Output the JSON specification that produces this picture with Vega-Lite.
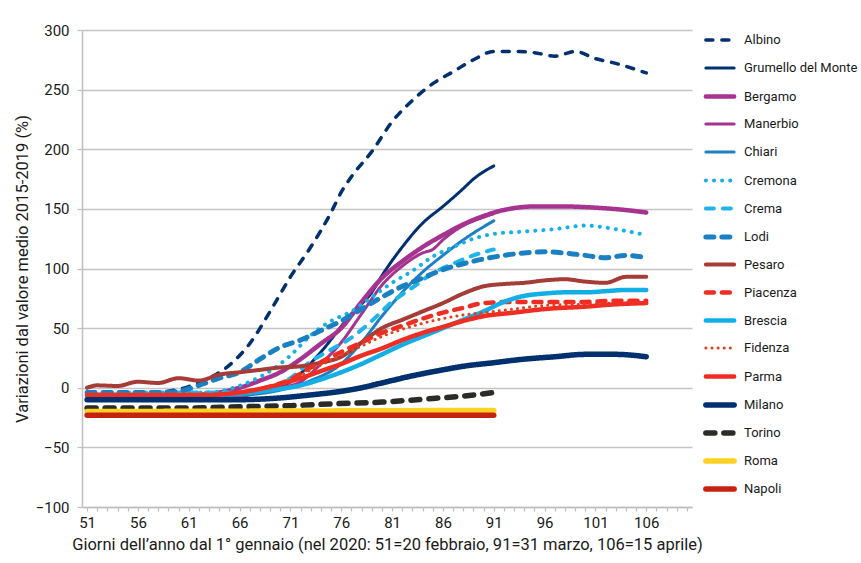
{
  "$schema": "https://vega.github.io/schema/vega-lite/v6.json",
  "autosize": "none",
  "width": 610,
  "height": 477,
  "padding": {"left": 82, "top": 30, "right": 169, "bottom": 56},
  "background": "white",
  "config": {
    "font": "Roboto",
    "view": {"stroke": null},
    "axis": {"labelFont": "Roboto", "titleFont": "Roboto", "labelColor": "#1a1a1a", "titleColor": "#1a1a1a", "titleFontWeight": "normal", "labelFontSize": 15, "titleFontSize": 16.5, "domainColor": "#bfbfbf", "tickColor": "#bfbfbf", "gridColor": "#c4c4c4", "domainWidth": 1.5, "tickWidth": 1.2, "gridWidth": 1.5},
    "legend": {"labelFont": "Roboto", "labelFontSize": 13, "labelColor": "#1a1a1a"}
  },
  "data": {"values": [
    {"c":"Albino","d":51,"v":-6},{"c":"Albino","d":54,"v":-6},{"c":"Albino","d":57,"v":-5},{"c":"Albino","d":59,"v":-3},{"c":"Albino","d":61,"v":1},{"c":"Albino","d":63,"v":8},{"c":"Albino","d":65,"v":19},{"c":"Albino","d":67,"v":37},{"c":"Albino","d":69,"v":64},{"c":"Albino","d":71,"v":93},{"c":"Albino","d":73,"v":118},{"c":"Albino","d":75,"v":147},{"c":"Albino","d":76,"v":164},{"c":"Albino","d":77,"v":177},{"c":"Albino","d":79,"v":198},{"c":"Albino","d":81,"v":223},{"c":"Albino","d":83,"v":241},{"c":"Albino","d":85,"v":255},{"c":"Albino","d":87,"v":265},{"c":"Albino","d":89,"v":275},{"c":"Albino","d":91,"v":282},{"c":"Albino","d":93,"v":282},{"c":"Albino","d":95,"v":281},{"c":"Albino","d":97,"v":278},{"c":"Albino","d":99,"v":282},{"c":"Albino","d":101,"v":276},{"c":"Albino","d":103,"v":272},{"c":"Albino","d":106,"v":264},
    {"c":"Grumello del Monte","d":51,"v":-8},{"c":"Grumello del Monte","d":61,"v":-8},{"c":"Grumello del Monte","d":65,"v":-7},{"c":"Grumello del Monte","d":69,"v":-2},{"c":"Grumello del Monte","d":71,"v":5},{"c":"Grumello del Monte","d":72,"v":12},{"c":"Grumello del Monte","d":74,"v":30},{"c":"Grumello del Monte","d":77,"v":62},{"c":"Grumello del Monte","d":79,"v":80},{"c":"Grumello del Monte","d":80,"v":94},{"c":"Grumello del Monte","d":82,"v":118},{"c":"Grumello del Monte","d":84,"v":138},{"c":"Grumello del Monte","d":86,"v":152},{"c":"Grumello del Monte","d":88,"v":167},{"c":"Grumello del Monte","d":89,"v":175},{"c":"Grumello del Monte","d":91,"v":186},
    {"c":"Bergamo","d":51,"v":-6},{"c":"Bergamo","d":61,"v":-6},{"c":"Bergamo","d":64,"v":-4},{"c":"Bergamo","d":66,"v":0},{"c":"Bergamo","d":68,"v":6},{"c":"Bergamo","d":70,"v":13},{"c":"Bergamo","d":72,"v":24},{"c":"Bergamo","d":74,"v":37},{"c":"Bergamo","d":76,"v":50},{"c":"Bergamo","d":78,"v":72},{"c":"Bergamo","d":80,"v":92},{"c":"Bergamo","d":82,"v":106},{"c":"Bergamo","d":84,"v":118},{"c":"Bergamo","d":86,"v":128},{"c":"Bergamo","d":88,"v":137},{"c":"Bergamo","d":90,"v":144},{"c":"Bergamo","d":92,"v":149},{"c":"Bergamo","d":95,"v":152},{"c":"Bergamo","d":98,"v":152},{"c":"Bergamo","d":101,"v":151},{"c":"Bergamo","d":104,"v":149},{"c":"Bergamo","d":106,"v":147},
    {"c":"Manerbio","d":51,"v":-7},{"c":"Manerbio","d":66,"v":-7},{"c":"Manerbio","d":68,"v":-4},{"c":"Manerbio","d":70,"v":0},{"c":"Manerbio","d":72,"v":5},{"c":"Manerbio","d":74,"v":20},{"c":"Manerbio","d":76,"v":38},{"c":"Manerbio","d":78,"v":62},{"c":"Manerbio","d":80,"v":86},{"c":"Manerbio","d":82,"v":102},{"c":"Manerbio","d":84,"v":113},{"c":"Manerbio","d":85,"v":116},{"c":"Manerbio","d":86,"v":124},{"c":"Manerbio","d":88,"v":136},{"c":"Manerbio","d":90,"v":143},{"c":"Manerbio","d":91,"v":146},
    {"c":"Chiari","d":51,"v":-7},{"c":"Chiari","d":66,"v":-6},{"c":"Chiari","d":70,"v":-2},{"c":"Chiari","d":73,"v":6},{"c":"Chiari","d":76,"v":20},{"c":"Chiari","d":78,"v":38},{"c":"Chiari","d":80,"v":60},{"c":"Chiari","d":82,"v":80},{"c":"Chiari","d":84,"v":97},{"c":"Chiari","d":86,"v":111},{"c":"Chiari","d":88,"v":124},{"c":"Chiari","d":90,"v":135},{"c":"Chiari","d":91,"v":140},
    {"c":"Cremona","d":51,"v":-4},{"c":"Cremona","d":63,"v":-4},{"c":"Cremona","d":65,"v":-1},{"c":"Cremona","d":67,"v":5},{"c":"Cremona","d":69,"v":14},{"c":"Cremona","d":71,"v":27},{"c":"Cremona","d":73,"v":44},{"c":"Cremona","d":75,"v":56},{"c":"Cremona","d":77,"v":64},{"c":"Cremona","d":79,"v":76},{"c":"Cremona","d":81,"v":88},{"c":"Cremona","d":83,"v":98},{"c":"Cremona","d":85,"v":110},{"c":"Cremona","d":87,"v":118},{"c":"Cremona","d":89,"v":125},{"c":"Cremona","d":91,"v":129},{"c":"Cremona","d":94,"v":131},{"c":"Cremona","d":97,"v":133},{"c":"Cremona","d":100,"v":136},{"c":"Cremona","d":103,"v":133},{"c":"Cremona","d":106,"v":128},
    {"c":"Crema","d":51,"v":-4},{"c":"Crema","d":66,"v":-4},{"c":"Crema","d":69,"v":0},{"c":"Crema","d":71,"v":8},{"c":"Crema","d":73,"v":22},{"c":"Crema","d":75,"v":32},{"c":"Crema","d":77,"v":42},{"c":"Crema","d":79,"v":56},{"c":"Crema","d":81,"v":72},{"c":"Crema","d":83,"v":84},{"c":"Crema","d":85,"v":96},{"c":"Crema","d":87,"v":104},{"c":"Crema","d":89,"v":111},{"c":"Crema","d":91,"v":116},
    {"c":"Lodi","d":51,"v":-4},{"c":"Lodi","d":58,"v":-4},{"c":"Lodi","d":60,"v":-3},{"c":"Lodi","d":62,"v":2},{"c":"Lodi","d":64,"v":8},{"c":"Lodi","d":66,"v":13},{"c":"Lodi","d":68,"v":24},{"c":"Lodi","d":70,"v":34},{"c":"Lodi","d":72,"v":40},{"c":"Lodi","d":74,"v":48},{"c":"Lodi","d":76,"v":56},{"c":"Lodi","d":78,"v":66},{"c":"Lodi","d":80,"v":76},{"c":"Lodi","d":82,"v":85},{"c":"Lodi","d":84,"v":92},{"c":"Lodi","d":86,"v":99},{"c":"Lodi","d":88,"v":104},{"c":"Lodi","d":90,"v":108},{"c":"Lodi","d":92,"v":111},{"c":"Lodi","d":94,"v":113},{"c":"Lodi","d":96,"v":114},{"c":"Lodi","d":98,"v":113},{"c":"Lodi","d":100,"v":111},{"c":"Lodi","d":102,"v":109},{"c":"Lodi","d":104,"v":111},{"c":"Lodi","d":106,"v":109},
    {"c":"Pesaro","d":51,"v":0},{"c":"Pesaro","d":52,"v":2},{"c":"Pesaro","d":54,"v":1.5},{"c":"Pesaro","d":56,"v":5},{"c":"Pesaro","d":58,"v":4},{"c":"Pesaro","d":60,"v":8},{"c":"Pesaro","d":62,"v":6},{"c":"Pesaro","d":64,"v":11},{"c":"Pesaro","d":66,"v":13},{"c":"Pesaro","d":68,"v":15},{"c":"Pesaro","d":70,"v":17},{"c":"Pesaro","d":72,"v":18},{"c":"Pesaro","d":74,"v":21},{"c":"Pesaro","d":76,"v":26},{"c":"Pesaro","d":78,"v":38},{"c":"Pesaro","d":80,"v":50},{"c":"Pesaro","d":82,"v":57},{"c":"Pesaro","d":84,"v":64},{"c":"Pesaro","d":86,"v":71},{"c":"Pesaro","d":88,"v":79},{"c":"Pesaro","d":90,"v":85},{"c":"Pesaro","d":92,"v":87},{"c":"Pesaro","d":94,"v":88},{"c":"Pesaro","d":96,"v":90},{"c":"Pesaro","d":98,"v":91},{"c":"Pesaro","d":100,"v":89},{"c":"Pesaro","d":102,"v":88},{"c":"Pesaro","d":104,"v":93},{"c":"Pesaro","d":106,"v":93},
    {"c":"Piacenza","d":51,"v":-6},{"c":"Piacenza","d":63,"v":-6},{"c":"Piacenza","d":66,"v":-4},{"c":"Piacenza","d":69,"v":1},{"c":"Piacenza","d":71,"v":7},{"c":"Piacenza","d":73,"v":17},{"c":"Piacenza","d":76,"v":30},{"c":"Piacenza","d":78,"v":38},{"c":"Piacenza","d":80,"v":46},{"c":"Piacenza","d":82,"v":52},{"c":"Piacenza","d":84,"v":58},{"c":"Piacenza","d":86,"v":63},{"c":"Piacenza","d":88,"v":67},{"c":"Piacenza","d":90,"v":71},{"c":"Piacenza","d":93,"v":72},{"c":"Piacenza","d":96,"v":72},{"c":"Piacenza","d":100,"v":72},{"c":"Piacenza","d":103,"v":73},{"c":"Piacenza","d":106,"v":73},
    {"c":"Brescia","d":51,"v":-6},{"c":"Brescia","d":63,"v":-6},{"c":"Brescia","d":66,"v":-5},{"c":"Brescia","d":69,"v":-2},{"c":"Brescia","d":72,"v":2},{"c":"Brescia","d":74,"v":7},{"c":"Brescia","d":76,"v":13},{"c":"Brescia","d":78,"v":20},{"c":"Brescia","d":80,"v":28},{"c":"Brescia","d":82,"v":36},{"c":"Brescia","d":84,"v":43},{"c":"Brescia","d":86,"v":50},{"c":"Brescia","d":88,"v":57},{"c":"Brescia","d":90,"v":64},{"c":"Brescia","d":92,"v":72},{"c":"Brescia","d":94,"v":77},{"c":"Brescia","d":96,"v":79},{"c":"Brescia","d":98,"v":80},{"c":"Brescia","d":100,"v":80},{"c":"Brescia","d":102,"v":81},{"c":"Brescia","d":104,"v":82},{"c":"Brescia","d":106,"v":82},
    {"c":"Fidenza","d":51,"v":-6},{"c":"Fidenza","d":63,"v":-6},{"c":"Fidenza","d":66,"v":-4},{"c":"Fidenza","d":69,"v":1},{"c":"Fidenza","d":71,"v":6},{"c":"Fidenza","d":73,"v":15},{"c":"Fidenza","d":76,"v":27},{"c":"Fidenza","d":78,"v":35},{"c":"Fidenza","d":80,"v":43},{"c":"Fidenza","d":82,"v":49},{"c":"Fidenza","d":84,"v":54},{"c":"Fidenza","d":86,"v":58},{"c":"Fidenza","d":88,"v":61},{"c":"Fidenza","d":90,"v":63},{"c":"Fidenza","d":93,"v":66},{"c":"Fidenza","d":96,"v":69},{"c":"Fidenza","d":100,"v":70},{"c":"Fidenza","d":103,"v":71},{"c":"Fidenza","d":106,"v":72},
    {"c":"Parma","d":51,"v":-6},{"c":"Parma","d":63,"v":-6},{"c":"Parma","d":66,"v":-4},{"c":"Parma","d":68,"v":-1},{"c":"Parma","d":70,"v":3},{"c":"Parma","d":72,"v":8},{"c":"Parma","d":74,"v":14},{"c":"Parma","d":76,"v":20},{"c":"Parma","d":78,"v":27},{"c":"Parma","d":80,"v":33},{"c":"Parma","d":82,"v":40},{"c":"Parma","d":84,"v":46},{"c":"Parma","d":86,"v":51},{"c":"Parma","d":88,"v":56},{"c":"Parma","d":90,"v":60},{"c":"Parma","d":93,"v":63},{"c":"Parma","d":96,"v":66},{"c":"Parma","d":100,"v":68},{"c":"Parma","d":103,"v":70},{"c":"Parma","d":106,"v":71},
    {"c":"Milano","d":51,"v":-10},{"c":"Milano","d":66,"v":-10},{"c":"Milano","d":70,"v":-8.5},{"c":"Milano","d":73,"v":-6},{"c":"Milano","d":76,"v":-3},{"c":"Milano","d":78,"v":0},{"c":"Milano","d":80,"v":4},{"c":"Milano","d":83,"v":10},{"c":"Milano","d":86,"v":15},{"c":"Milano","d":88,"v":18},{"c":"Milano","d":91,"v":21},{"c":"Milano","d":94,"v":24},{"c":"Milano","d":97,"v":26},{"c":"Milano","d":100,"v":28},{"c":"Milano","d":103,"v":28},{"c":"Milano","d":106,"v":26},
    {"c":"Torino","d":51,"v":-17},{"c":"Torino","d":61,"v":-17},{"c":"Torino","d":66,"v":-16},{"c":"Torino","d":71,"v":-15},{"c":"Torino","d":75,"v":-13.5},{"c":"Torino","d":80,"v":-12},{"c":"Torino","d":85,"v":-9},{"c":"Torino","d":88,"v":-7},{"c":"Torino","d":91,"v":-4},
    {"c":"Roma","d":51,"v":-20},{"c":"Roma","d":71,"v":-19.5},{"c":"Roma","d":91,"v":-19},
    {"c":"Napoli","d":51,"v":-23},{"c":"Napoli","d":91,"v":-23}
  ]},
  "mark": {"type": "line", "interpolate": "monotone", "strokeCap": "round", "strokeJoin": "round"},
  "encoding": {
    "x": {"field": "d", "type": "quantitative",
      "scale": {"domain": [50.5, 110.5], "nice": false, "zero": false},
      "axis": {"values": [51,52,53,54,55,56,57,58,59,60,61,62,63,64,65,66,67,68,69,70,71,72,73,74,75,76,77,78,79,80,81,82,83,84,85,86,87,88,89,90,91,92,93,94,95,96,97,98,99,100,101,102,103,104,105,106,107,108,109,110],
        "labelExpr": "(datum.value - 51) % 5 == 0 ? datum.label : ''",
        "labelOverlap": false, "labelFlush": false, "grid": false, "tickSize": 4, "labelPadding": 4, "titlePadding": 6,
        "title": "Giorni dell’anno dal 1° gennaio (nel 2020: 51=20 febbraio, 91=31 marzo, 106=15 aprile)"}},
    "y": {"field": "v", "type": "quantitative",
      "scale": {"domain": [-100, 300], "nice": false, "zero": false},
      "axis": {"values": [-100,-50,0,50,100,150,200,250,300], "tickSize": 5, "labelPadding": 8, "titlePadding": 5, "grid": true,
        "title": "Variazioni dal valore medio 2015-2019 (%)"}},
    "color": {"field": "c", "type": "nominal",
      "scale": {"domain": ["Albino","Grumello del Monte","Bergamo","Manerbio","Chiari","Cremona","Crema","Lodi","Pesaro","Piacenza","Brescia","Fidenza","Parma","Milano","Torino","Roma","Napoli"],
        "range": ["#00306e","#00306e","#a6338f","#a6338f","#1e7fc2","#14b1e7","#20b4e8","#1a7fc3","#a53c37","#ee2e24","#12afe6","#e2401a","#ee2e24","#00306e","#2b2b28","#ffd124","#c4240f"]},
      "legend": {"title": null, "orient": "none", "legendX": 621, "legendY": -6, "symbolType": "stroke", "symbolSize": 800, "gridAlign": "all", "rowPadding": -18, "labelOffset": 7,
        "encode": {"symbols": {"update": {"strokeCap": {"value": "round"}}}}}},
    "strokeDash": {"field": "c", "type": "nominal",
      "scale": {"domain": ["Albino","Grumello del Monte","Bergamo","Manerbio","Chiari","Cremona","Crema","Lodi","Pesaro","Piacenza","Brescia","Fidenza","Parma","Milano","Torino","Roma","Napoli"],
        "range": [[7,9],[1,0],[1,0],[1,0],[1,0],[0.1,8],[8,9],[8,8],[1,0],[8,8],[1,0],[0.1,6],[1,0],[1,0],[9,9],[1,0],[1,0]]},
      "legend": {"title": null}},
    "strokeWidth": {"field": "c", "type": "nominal",
      "scale": {"type": "ordinal", "domain": ["Albino","Grumello del Monte","Bergamo","Manerbio","Chiari","Cremona","Crema","Lodi","Pesaro","Piacenza","Brescia","Fidenza","Parma","Milano","Torino","Roma","Napoli"],
        "range": [3.5,3,4.5,3,3,4,4,5,4,4.5,4.5,3,4.5,5.5,5.5,5.5,5.5]},
      "legend": {"title": null}}
  }
}
